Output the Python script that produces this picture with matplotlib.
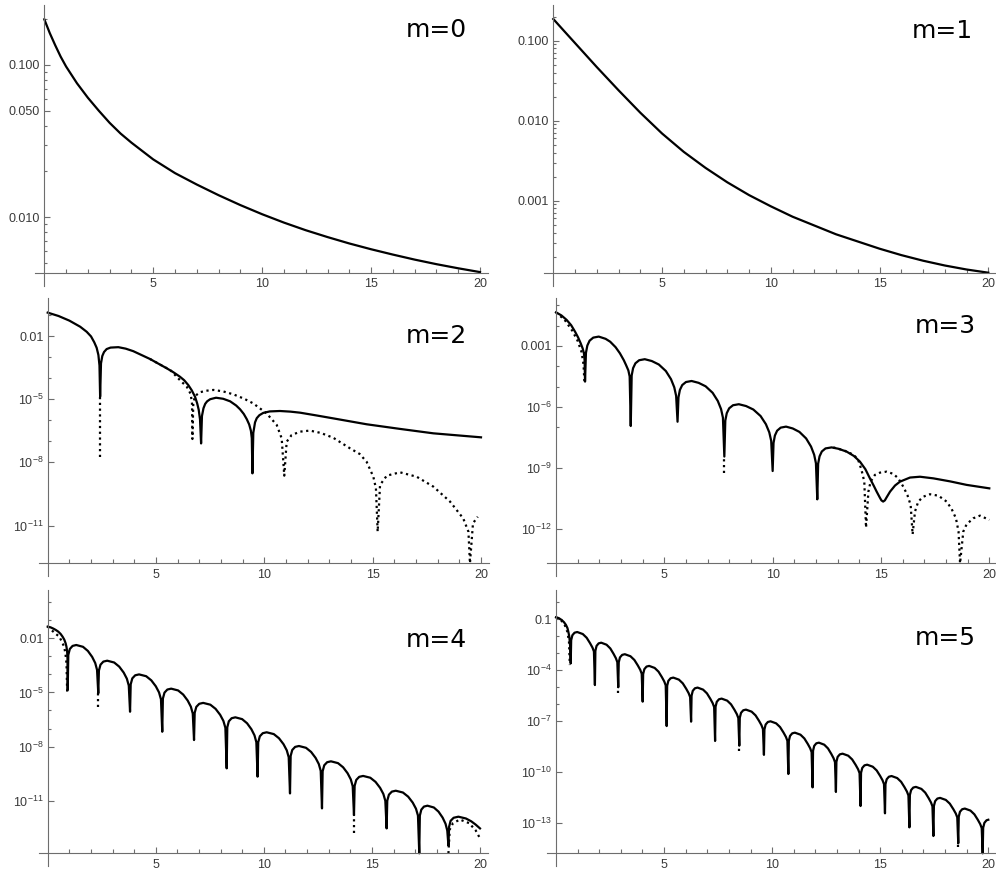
import matplotlib

matplotlib.use("Agg")
import matplotlib.pyplot as plt
import numpy as np
from matplotlib.ticker import FixedFormatter, FixedLocator, NullFormatter

W, H = 996, 877
AXIS_GRAY = "#6d6d6d"
LABEL_GRAY = "#3a3a3a"
DOTS = (0, (1, 1.6))

plt.rcParams.update(
    {
        "font.family": ["Liberation Sans", "DejaVu Sans"],
        "font.size": 9,
        "mathtext.fontset": "custom",
        "mathtext.rm": "Liberation Sans",
        "mathtext.it": "Liberation Sans:italic",
        "mathtext.bf": "Liberation Sans:bold",
    }
)

# Curves are (x, log10 y) pairs, one arch per line.
M0_SOLID = [
    (0, -0.70), (0.25, -0.79), (0.5, -0.87), (0.75, -0.945), (1, -1.01), (1.5, -1.12),
    (2, -1.215), (2.5, -1.30), (3, -1.38), (3.5, -1.45), (4, -1.51), (5, -1.62),
    (6, -1.71), (7, -1.785), (8, -1.855), (9, -1.92), (10, -1.98), (11, -2.035),
    (12, -2.085), (13, -2.13), (14, -2.172), (15, -2.21), (16, -2.245), (17, -2.278),
    (18, -2.308), (19, -2.335), (20, -2.36),
]

M1_SOLID = [
    (0, -0.729), (0.5, -0.88), (1, -1.03), (1.5, -1.18), (2, -1.33), (3, -1.62),
    (4, -1.90), (5, -2.16), (6, -2.39), (7, -2.59), (8, -2.77), (9, -2.93),
    (10, -3.07), (11, -3.20), (12, -3.31), (13, -3.42), (14, -3.51), (15, -3.60),
    (16, -3.68), (17, -3.75), (18, -3.81), (19, -3.86), (20, -3.90),
]

M2_SOLID = [
    (0, -0.89), (0.5, -1.05), (1, -1.27), (1.5, -1.56), (1.8, -1.8), (2.0, -2.02),
    (2.15, -2.3), (2.26, -2.56), (2.34, -2.9), (2.39, -3.4), (2.42, -4.88),
    (2.46, -3.3), (2.52, -2.95), (2.6, -2.76), (2.72, -2.62), (2.9, -2.55), (3.26, -2.53),
    (3.6, -2.6), (3.95, -2.72), (4.72, -3.09), (5.49, -3.53), (5.8, -3.72), (6.1, -3.93),
    (6.3, -4.1), (6.49, -4.33), (6.65, -4.58), (6.8, -4.88), (6.9, -5.2), (6.97, -5.5),
    (7.03, -5.95), (7.08, -7.1),
    (7.12, -5.8), (7.19, -5.43), (7.27, -5.22), (7.36, -5.1), (7.5, -5.0), (7.77, -4.93),
    (8.1, -4.98), (8.42, -5.1), (8.7, -5.3), (8.88, -5.48), (9.05, -5.7), (9.19, -5.95),
    (9.3, -6.2), (9.38, -6.5), (9.42, -6.85), (9.45, -8.52),
    (9.49, -6.6), (9.57, -6.1), (9.65, -5.9), (9.77, -5.76), (9.95, -5.65), (10.25, -5.58),
    (10.72, -5.56), (11.2, -5.59), (11.65, -5.64), (12.4, -5.77), (13.18, -5.91),
    (14.72, -6.19), (16.26, -6.41), (17.8, -6.62), (20, -6.81),
]
M2_DOTTED = [
    (4.72, -3.09), (5.3, -3.42), (5.65, -3.61), (6.1, -4.09), (6.42, -4.41), (6.6, -4.75),
    (6.66, -5.2), (6.68, -6.89),
    (6.72, -5.2), (6.8, -4.85), (7.03, -4.67), (7.3, -4.6), (7.65, -4.56), (8.1, -4.63),
    (8.57, -4.77), (9.05, -4.97), (9.49, -5.2), (10.1, -5.67), (10.57, -6.22), (10.8, -6.86),
    (10.92, -8.63),
    (11.03, -7.02), (11.26, -6.7), (11.65, -6.54), (12.1, -6.49), (12.6, -6.6), (13.18, -6.83),
    (13.95, -7.33), (14.4, -7.6), (14.72, -7.97), (15.03, -8.68), (15.15, -9.23), (15.23, -11.29),
    (15.34, -9.07), (15.65, -8.63), (16.26, -8.47), (17.03, -8.68), (17.8, -9.15),
    (18.57, -9.86), (19.18, -10.66), (19.42, -11.29), (19.49, -12.79),
    (19.63, -10.89), (19.85, -10.58),
]
M2_DIP_X = [2.42]
M2_DIP_TOP = [-4.88]
M2_DIP_BOTTOM = [-7.73]

M3_SOLID = [
    (0, -1.35), (0.25, -1.5), (0.49, -1.72), (0.7, -1.98), (0.88, -2.30), (1.02, -2.58),
    (1.14, -2.87), (1.23, -3.12), (1.29, -3.36), (1.32, -3.7), (1.34, -4.75),
    (1.382, -3.34), (1.446, -2.98), (1.551, -2.74), (1.72, -2.59), (1.973, -2.54), (2.29, -2.65),
    (2.50, -2.79), (2.75, -3.06), (2.95, -3.36), (3.13, -3.70), (3.23, -3.93), (3.34, -4.2),
    (3.40, -4.5), (3.45, -6.93),
    (3.493, -4.45), (3.558, -4.09), (3.666, -3.85), (3.839, -3.70), (4.098, -3.65), (4.422, -3.74),
    (4.746, -3.91), (5.07, -4.23), (5.308, -4.63), (5.459, -5.03), (5.545, -5.45), (5.61, -6.72),
    (5.653, -5.52), (5.718, -5.16), (5.826, -4.92), (5.999, -4.77), (6.258, -4.72), (6.582, -4.81),
    (6.906, -4.98), (7.23, -5.30), (7.468, -5.70), (7.619, -6.10), (7.705, -6.52), (7.77, -8.43),
    (7.815, -6.66), (7.882, -6.30), (7.993, -6.06), (8.171, -5.91), (8.439, -5.86), (8.774, -5.95),
    (9.108, -6.12), (9.443, -6.44), (9.688, -6.84), (9.844, -7.24), (9.933, -7.66), (10.0, -9.14),
    (10.041, -7.76), (10.103, -7.40), (10.206, -7.16), (10.371, -7.01), (10.618, -6.96),
    (10.927, -7.05), (11.236, -7.22), (11.545, -7.54), (11.772, -7.94), (11.916, -8.34),
    (11.998, -8.76), (12.06, -10.53),
    (12.10, -8.78), (12.165, -8.42), (12.27, -8.18), (12.44, -8.03), (12.72, -7.98), (13.05, -8.05),
    (13.42, -8.19), (13.75, -8.4), (14.03, -8.68), (14.28, -9.05), (14.49, -9.5), (14.67, -9.87),
    (14.8, -10.15), (14.95, -10.45), (15.02, -10.58), (15.1, -10.64), (15.18, -10.58),
    (15.25, -10.45), (15.42, -10.15), (15.65, -9.85), (15.88, -9.66), (16.34, -9.46),
    (16.8, -9.42), (17.42, -9.5), (18.2, -9.65), (18.95, -9.82), (20, -9.99),
]
M3_DOTTED_START = [
    (0, -1.35), (0.4, -1.72), (0.75, -2.25), (1.0, -2.75), (1.18, -3.3), (1.27, -3.9),
    (1.31, -4.75),
]
M3_DOTTED = [
    (12.8, -7.98), (13.3, -8.13), (13.75, -8.35), (13.95, -8.6), (14.1, -9.08), (14.23, -9.66),
    (14.31, -11.92),
    (14.42, -10.15), (14.52, -9.66), (14.72, -9.33), (14.95, -9.22), (15.26, -9.17),
    (15.57, -9.28), (15.8, -9.5), (16.03, -9.91), (16.22, -10.32), (16.37, -10.81), (16.46, -12.25),
    (16.57, -11.13), (16.72, -10.64), (16.95, -10.4), (17.26, -10.28), (17.65, -10.35),
    (18.03, -10.64), (18.26, -11.0), (18.46, -11.46), (18.58, -12.11), (18.65, -13.67),
    (18.8, -12.11), (18.95, -11.76), (19.26, -11.46), (19.57, -11.33), (20, -11.54),
]
M3_DIP_X = [7.77]
M3_DIP_TOP = [-8.43]
M3_DIP_BOTTOM = [-9.25]

M4_SOLID = [
    (0, -1.35), (0.13, -1.39), (0.26, -1.46), (0.38, -1.54), (0.49, -1.63), (0.6, -1.76),
    (0.69, -1.91), (0.77, -2.08), (0.83, -2.28), (0.87, -2.48), (0.9, -2.74), (0.915, -3.1),
    (0.925, -4.87),
    (0.953, -2.92), (1.024, -2.59), (1.151, -2.42), (1.321, -2.37), (1.633, -2.47), (1.859, -2.70), (2.057, -3.03), (2.199, -3.37), (2.283, -3.75), (2.34, -5.05),
    (2.369, -3.79), (2.443, -3.46), (2.575, -3.29), (2.752, -3.24), (3.075, -3.34), (3.310, -3.57), (3.516, -3.90), (3.663, -4.24), (3.751, -4.62), (3.81, -6.07),
    (3.840, -4.55), (3.914, -4.22), (4.048, -4.05), (4.227, -4.00), (4.555, -4.10), (4.793, -4.33), (5.002, -4.66), (5.151, -5.00), (5.240, -5.38), (5.30, -7.18),
    (5.329, -5.34), (5.403, -5.01), (5.535, -4.84), (5.712, -4.79), (6.035, -4.89), (6.270, -5.12), (6.476, -5.45), (6.623, -5.79), (6.711, -6.17), (6.77, -7.64),
    (6.800, -6.13), (6.876, -5.80), (7.012, -5.63), (7.193, -5.58), (7.525, -5.68), (7.767, -5.91), (7.978, -6.24), (8.129, -6.58), (8.220, -6.96), (8.28, -9.21),
    (8.309, -6.93), (8.380, -6.60), (8.509, -6.43), (8.680, -6.38), (8.995, -6.48), (9.224, -6.71), (9.424, -7.04), (9.567, -7.38), (9.653, -7.76), (9.71, -9.67),
    (9.740, -7.76), (9.815, -7.43), (9.950, -7.26), (10.130, -7.21), (10.460, -7.31), (10.700, -7.54), (10.910, -7.87), (11.060, -8.21), (11.150, -8.59), (11.21, -10.6),
    (11.240, -8.52), (11.314, -8.19), (11.447, -8.02), (11.624, -7.97), (11.950, -8.07), (12.187, -8.30), (12.394, -8.63), (12.542, -8.97), (12.631, -9.35), (12.69, -11.43),
    (12.720, -9.37), (12.794, -9.04), (12.927, -8.87), (13.104, -8.82), (13.430, -8.92), (13.667, -9.15), (13.874, -9.48), (14.022, -9.82), (14.111, -10.20), (14.17, -11.8),
    (14.200, -10.18), (14.276, -9.85), (14.412, -9.68), (14.593, -9.63), (14.925, -9.73), (15.167, -9.96), (15.378, -10.29), (15.529, -10.63), (15.620, -11.01), (15.68, -12.54),
    (15.710, -11.00), (15.786, -10.67), (15.922, -10.50), (16.103, -10.45), (16.435, -10.55), (16.677, -10.78), (16.888, -11.11), (17.039, -11.45), (17.130, -11.83), (17.19, -13.92),
    (17.217, -11.83), (17.285, -11.50), (17.406, -11.33), (17.568, -11.28), (17.865, -11.38), (18.081, -11.61), (18.270, -11.94), (18.405, -12.28), (18.486, -12.66), (18.54, -13.5),
    (18.57, -12.45), (18.64, -12.12), (18.78, -11.95), (19.0, -11.89), (19.35, -11.99), (19.6, -12.15), (19.8, -12.33), (20, -12.54),
]
M4_DOTTED_START = [
    (0, -1.35), (0.34, -1.72), (0.54, -1.91), (0.65, -2.18), (0.76, -2.46), (0.82, -2.84),
    (0.87, -3.4), (0.9, -4.96),
]
M4_DOTTED_END = [
    (18.54, -13.92), (18.6, -12.6), (18.75, -12.25), (19.07, -12.05), (19.5, -12.25),
    (19.8, -12.65), (20, -13.09),
]
M4_DIP_X = [2.34, 14.17]
M4_DIP_TOP = [-5.05, -11.8]
M4_DIP_BOTTOM = [-5.79, -12.81]

M5_SOLID = [
    (0, -0.88), (0.13, -0.93), (0.26, -1.04), (0.37, -1.17), (0.46, -1.33), (0.53, -1.52),
    (0.57, -1.73), (0.61, -1.98), (0.63, -2.22), (0.655, -2.6), (0.68, -3.6),
    (0.702, -2.23), (0.758, -1.94), (0.859, -1.79), (0.982, -1.75), (1.240, -1.87), (1.419, -2.09), (1.576, -2.41), (1.688, -2.67), (1.755, -2.90), (1.80, -4.88),
    (1.822, -2.86), (1.876, -2.57), (1.973, -2.42), (2.092, -2.38), (2.340, -2.50), (2.513, -2.72), (2.664, -3.04), (2.772, -3.30), (2.837, -3.53), (2.88, -5.01),
    (2.903, -3.54), (2.959, -3.25), (3.061, -3.10), (3.185, -3.06), (3.445, -3.18), (3.626, -3.40), (3.784, -3.72), (3.897, -3.98), (3.965, -4.21), (4.01, -5.86),
    (4.032, -4.23), (4.088, -3.94), (4.188, -3.79), (4.310, -3.75), (4.565, -3.87), (4.743, -4.09), (4.898, -4.41), (5.009, -4.67), (5.076, -4.90), (5.12, -7.3),
    (5.143, -4.92), (5.199, -4.63), (5.301, -4.48), (5.425, -4.44), (5.685, -4.56), (5.866, -4.78), (6.024, -5.10), (6.137, -5.36), (6.205, -5.59), (6.25, -7.04),
    (6.272, -5.51), (6.328, -5.22), (6.428, -5.07), (6.550, -5.03), (6.805, -5.15), (6.983, -5.37), (7.138, -5.69), (7.249, -5.95), (7.316, -6.18), (7.36, -8.18),
    (7.382, -6.16), (7.438, -5.87), (7.539, -5.72), (7.662, -5.68), (7.920, -5.80), (8.099, -6.02), (8.256, -6.34), (8.368, -6.60), (8.435, -6.83), (8.48, -8.46),
    (8.503, -6.81), (8.560, -6.52), (8.662, -6.37), (8.788, -6.33), (9.050, -6.45), (9.232, -6.67), (9.392, -6.99), (9.506, -7.25), (9.574, -7.48), (9.62, -9.0),
    (9.643, -7.50), (9.699, -7.21), (9.801, -7.06), (9.925, -7.02), (10.185, -7.14), (10.366, -7.36), (10.524, -7.68), (10.637, -7.94), (10.705, -8.17), (10.75, -10.13),
    (10.772, -8.17), (10.828, -7.88), (10.929, -7.73), (11.052, -7.69), (11.310, -7.81), (11.489, -8.03), (11.646, -8.35), (11.758, -8.61), (11.825, -8.84), (11.87, -10.92),
    (11.892, -8.76), (11.946, -8.47), (12.043, -8.32), (12.162, -8.28), (12.410, -8.40), (12.583, -8.62), (12.734, -8.94), (12.842, -9.20), (12.907, -9.43), (12.95, -11.19),
    (12.973, -9.41), (13.030, -9.12), (13.132, -8.97), (13.258, -8.93), (13.520, -9.05), (13.702, -9.27), (13.862, -9.59), (13.976, -9.85), (14.044, -10.08), (14.09, -12.02),
    (14.113, -10.06), (14.169, -9.77), (14.271, -9.62), (14.395, -9.58), (14.655, -9.70), (14.836, -9.92), (14.994, -10.24), (15.107, -10.50), (15.175, -10.73), (15.22, -12.45),
    (15.243, -10.73), (15.299, -10.44), (15.401, -10.29), (15.525, -10.25), (15.785, -10.37), (15.966, -10.59), (16.124, -10.91), (16.237, -11.17), (16.305, -11.40), (16.35, -13.28),
    (16.372, -11.37), (16.428, -11.08), (16.528, -10.93), (16.650, -10.89), (16.905, -11.01), (17.083, -11.23), (17.238, -11.55), (17.349, -11.81), (17.416, -12.04), (17.46, -13.79),
    (17.483, -12.02), (17.541, -11.73), (17.644, -11.58), (17.771, -11.54), (18.035, -11.66), (18.219, -11.88), (18.380, -12.20), (18.495, -12.46), (18.564, -12.69), (18.61, -14.22),
    (18.633, -12.65), (18.689, -12.36), (18.791, -12.21), (18.915, -12.17), (19.175, -12.29), (19.356, -12.51), (19.514, -12.83), (19.627, -13.09), (19.695, -13.32), (19.74, -14.81),
    (19.763, -13.30), (19.82, -13.01), (19.92, -12.86), (20, -12.83),
]
M5_DOTTED_START = [
    (0, -0.88), (0.25, -1.08), (0.42, -1.38), (0.53, -1.75), (0.6, -2.3), (0.64, -3.7),
]
M5_DIP_X = [2.88, 8.48, 18.61]
M5_DIP_TOP = [-5.01, -8.46, -14.22]
M5_DIP_BOTTOM = [-5.37, -8.75, -14.42]

# y-axis range (log10) and labelled ticks of each panel
M0_YRANGE = (-2.364, -0.606)
M1_YRANGE = (-3.90, -0.554)
M2_YRANGE = (-12.79, -0.21)
M3_YRANGE = (-13.67, -0.66)
M4_YRANGE = (-13.92, 0.68)
M5_YRANGE = (-14.81, 0.73)

M0_YTICKS = [0.01, 0.05, 0.1]
M0_YLABELS = ["0.010", "0.050", "0.100"]
M1_YTICKS = [0.001, 0.01, 0.1]
M1_YLABELS = ["0.001", "0.010", "0.100"]
M2_YTICKS = [1e-11, 1e-8, 1e-5, 1e-2]
M2_YLABELS = [r"$10^{-11}$", r"$10^{-8}$", r"$10^{-5}$", "0.01"]
M3_YTICKS = [1e-12, 1e-9, 1e-6, 1e-3]
M3_YLABELS = [r"$10^{-12}$", r"$10^{-9}$", r"$10^{-6}$", "0.001"]
M4_YTICKS = [1e-11, 1e-8, 1e-5, 1e-2]
M4_YLABELS = [r"$10^{-11}$", r"$10^{-8}$", r"$10^{-5}$", "0.01"]
M5_YTICKS = [1e-13, 1e-10, 1e-7, 1e-4, 1e-1]
M5_YLABELS = [r"$10^{-13}$", r"$10^{-10}$", r"$10^{-7}$", r"$10^{-4}$", "0.1"]

XTICKS = [5, 10, 15, 20]
XMINOR = [1, 2, 3, 4, 6, 7, 8, 9, 11, 12, 13, 14, 16, 17, 18, 19]

# pixel frame of each panel: x=0, x=20, top of y axis, x axis line
FRAMES = {
    0: (44.3, 480.0, 5.0, 272.7),
    1: (553.3, 988.3, 5.0, 272.7),
    2: (47.7, 481.0, 298.3, 563.3),
    3: (556.0, 989.3, 298.3, 563.3),
    4: (47.7, 480.0, 590.0, 853.3),
    5: (556.0, 988.3, 590.0, 853.3),
}
# right edge and baseline (pixels) of the panel captions
CAPTIONS = {
    0: (467, 37.3),
    1: (973, 37.7),
    2: (467, 343.3),
    3: (976, 333.3),
    4: (467, 646.7),
    5: (976, 645.0),
}


def minor_ticks(log_lo, log_hi, majors, per_decade):
    subs = range(1, 10) if per_decade else [1]
    ticks = []
    for d in range(int(np.floor(log_lo)) - 1, int(np.ceil(log_hi)) + 1):
        for k in subs:
            v = k * 10.0**d
            if log_lo <= np.log10(v) <= log_hi and not any(np.isclose(v, m) for m in majors):
                ticks.append(v)
    return ticks


def make_axes(fig, m, yrange, yticks, ylabels, per_decade=False):
    x0, x20, top, bot = FRAMES[m]
    log_lo, log_hi = yrange
    ppu = (x20 - x0) / 20.0
    ppd = (bot - top) / (log_hi - log_lo)
    left, right, low = x0 - 9, x20 + 8, bot + 13
    ax = fig.add_axes([left / W, 1 - low / H, (right - left) / W, (low - top) / H])
    ax.set_yscale("log")
    ax.set_xlim(-9 / ppu, 20 + 8 / ppu)
    ax.set_ylim(10 ** (log_lo - 13 / ppd), 10**log_hi)
    ax.patch.set_visible(False)
    for side in ("top", "right"):
        ax.spines[side].set_visible(False)
    ax.spines["left"].set_position(("data", 0))
    ax.spines["bottom"].set_position(("data", 10**log_lo))
    for side in ("left", "bottom"):
        ax.spines[side].set_color(AXIS_GRAY)
        ax.spines[side].set_linewidth(0.8)

    ax.xaxis.set_major_locator(FixedLocator(XTICKS))
    ax.xaxis.set_minor_locator(FixedLocator(XMINOR))
    ax.xaxis.set_minor_formatter(NullFormatter())
    ax.yaxis.set_major_locator(FixedLocator(yticks))
    ax.yaxis.set_major_formatter(FixedFormatter(ylabels))
    ax.yaxis.set_minor_locator(FixedLocator(minor_ticks(log_lo, log_hi, yticks, per_decade)))
    ax.yaxis.set_minor_formatter(NullFormatter())
    ax.tick_params(which="both", direction="in", color=AXIS_GRAY, width=0.8,
                   labelcolor=LABEL_GRAY, labelsize=9)
    ax.tick_params(axis="x", which="major", length=4.3, pad=4)
    ax.tick_params(axis="x", which="minor", length=2.7)
    ax.tick_params(axis="y", which="major", length=4.0, pad=3)
    ax.tick_params(axis="y", which="minor", length=2.2)

    cx, cy = CAPTIONS[m]
    fig.text(cx / W, 1 - cy / H, f"m={m}", ha="right", va="baseline",
             fontsize=18, family="DejaVu Sans", color="black")
    return ax


def curve(ax, points, dotted=False):
    xs, ly = np.array(points).T
    if dotted:
        ax.plot(xs, 10**ly, color="black", lw=1.6, linestyle=DOTS)
    else:
        ax.plot(xs, 10**ly, color="black", lw=1.6, solid_joinstyle="round")


def dips(ax, xs, tops, bottoms):
    ax.vlines(xs, 10 ** np.array(bottoms), 10 ** np.array(tops), colors="black",
              lw=1.6, linestyles=DOTS)


def main():
    fig = plt.figure(figsize=(W / 100, H / 100), dpi=100)

    ax = make_axes(fig, 0, M0_YRANGE, M0_YTICKS, M0_YLABELS, per_decade=True)
    curve(ax, M0_SOLID)

    ax = make_axes(fig, 1, M1_YRANGE, M1_YTICKS, M1_YLABELS, per_decade=True)
    curve(ax, M1_SOLID)

    ax = make_axes(fig, 2, M2_YRANGE, M2_YTICKS, M2_YLABELS)
    curve(ax, M2_DOTTED, dotted=True)
    dips(ax, M2_DIP_X, M2_DIP_TOP, M2_DIP_BOTTOM)
    curve(ax, M2_SOLID)

    ax = make_axes(fig, 3, M3_YRANGE, M3_YTICKS, M3_YLABELS)
    curve(ax, M3_DOTTED_START, dotted=True)
    curve(ax, M3_DOTTED, dotted=True)
    dips(ax, M3_DIP_X, M3_DIP_TOP, M3_DIP_BOTTOM)
    curve(ax, M3_SOLID)

    ax = make_axes(fig, 4, M4_YRANGE, M4_YTICKS, M4_YLABELS)
    curve(ax, M4_DOTTED_START, dotted=True)
    curve(ax, M4_DOTTED_END, dotted=True)
    dips(ax, M4_DIP_X, M4_DIP_TOP, M4_DIP_BOTTOM)
    curve(ax, M4_SOLID)

    ax = make_axes(fig, 5, M5_YRANGE, M5_YTICKS, M5_YLABELS)
    curve(ax, M5_DOTTED_START, dotted=True)
    dips(ax, M5_DIP_X, M5_DIP_TOP, M5_DIP_BOTTOM)
    curve(ax, M5_SOLID)

    fig.savefig("out.png", dpi=100, facecolor="white")


if __name__ == "__main__":
    main()
